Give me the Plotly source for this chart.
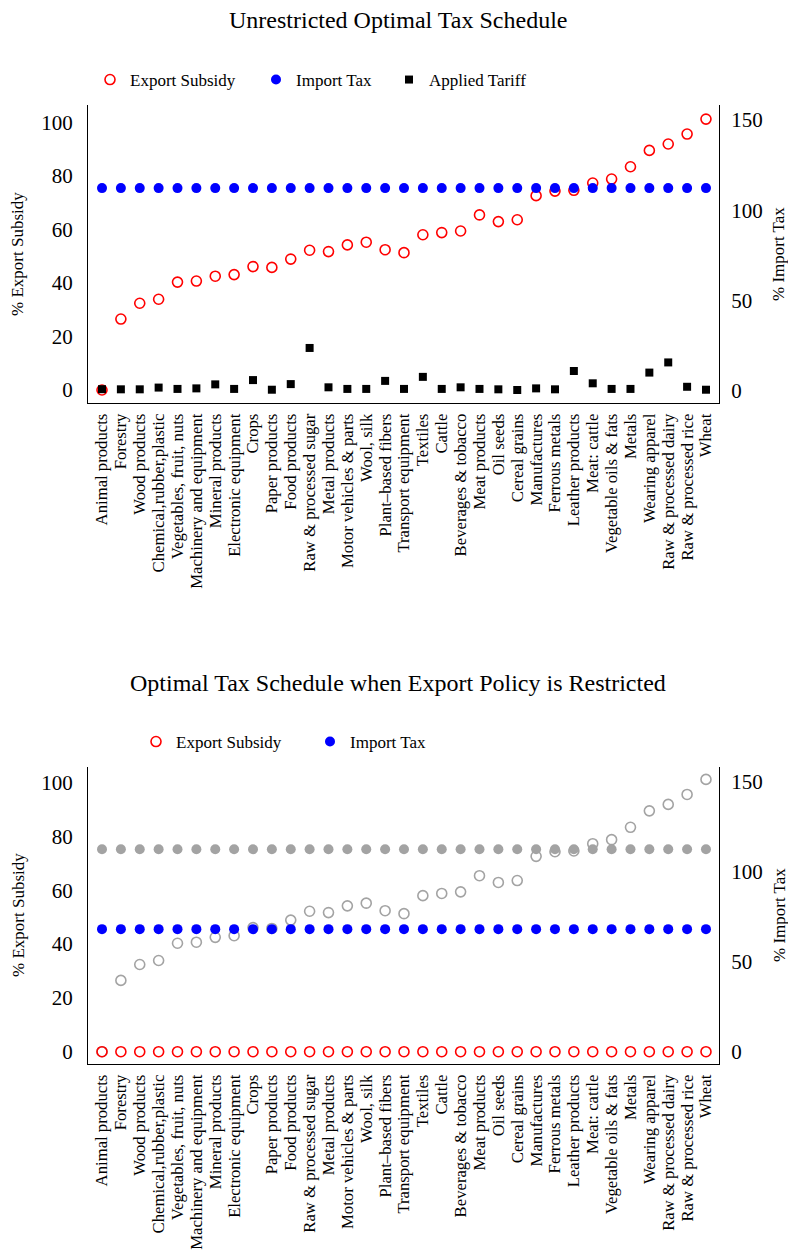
import plotly.graph_objects as go

categories = [
    "Animal products", "Forestry", "Wood products", "Chemical,rubber,plastic",
    "Vegetables, fruit, nuts", "Machinery and equipment", "Mineral products",
    "Electronic equipment", "Crops", "Paper products", "Food products",
    "Raw & processed sugar", "Metal products", "Motor vehicles & parts",
    "Wool, silk", "Plant\u2013based fibers", "Transport equipment", "Textiles",
    "Cattle", "Beverages & tobacco", "Meat products", "Oil seeds",
    "Cereal grains", "Manufactures", "Ferrous metals", "Leather products",
    "Meat: cattle", "Vegetable oils & fats", "Metals", "Wearing apparel",
    "Raw & processed dairy", "Raw & processed rice", "Wheat",
]

# Unrestricted schedule (left axis: % export subsidy, right axis: % import tax)
export_subsidy = [0.0, 26.5, 32.4, 33.9, 40.3, 40.7, 42.5, 43.1, 46.1, 45.8, 48.9,
                  52.2, 51.7, 54.2, 55.2, 52.4, 51.3, 58.0, 58.8, 59.4, 65.4, 62.9,
                  63.6, 72.6, 74.3, 74.6, 77.3, 78.8, 83.4, 89.5, 91.9, 95.6, 101.2]
import_tax = [112.3, 112.3, 112.3, 112.3, 112.3, 112.3, 112.3, 112.3, 112.3, 112.3, 112.3,
              112.3, 112.3, 112.3, 112.3, 112.3, 112.3, 112.3, 112.3, 112.3, 112.3, 112.3,
              112.3, 112.3, 112.3, 112.3, 112.3, 112.3, 112.3, 112.3, 112.3, 112.3, 112.3]
applied_tariff = [0.3, 0.25, 0.25, 0.9, 0.4, 0.6, 2.1, 0.4, 3.7, 0.1, 2.2,
                  15.7, 1.0, 0.4, 0.4, 3.4, 0.4, 4.9, 0.4, 1.0, 0.4, 0.25,
                  0.0, 0.6, 0.25, 7.1, 2.5, 0.4, 0.4, 6.5, 10.3, 1.2, 0.1]

# Restricted schedule
restricted_export_subsidy = [0, 0, 0, 0, 0, 0, 0, 0, 0, 0, 0,
                             0, 0, 0, 0, 0, 0, 0, 0, 0, 0, 0,
                             0, 0, 0, 0, 0, 0, 0, 0, 0, 0, 0]
restricted_import_tax = [68.0, 68.0, 68.0, 68.0, 68.0, 68.0, 68.0, 68.0, 68.0, 68.0, 68.0,
                         68.0, 68.0, 68.0, 68.0, 68.0, 68.0, 68.0, 68.0, 68.0, 68.0, 68.0,
                         68.0, 68.0, 68.0, 68.0, 68.0, 68.0, 68.0, 68.0, 68.0, 68.0, 68.0]

left_ticks = [0, 20, 40, 60, 80, 100]
right_ticks = [0, 50, 100, 150]

OFF = 8  # page body margin offset
W, H = 796 - 2 * OFF, 1251 - OFF
FONT = "Liberation Serif"
RED, BLUE, GRAY = "#ff0000", "#0000ff", "#a3a3a3"


def px_x(p):
    return (p - OFF) / W


def px_y(p):
    return 1 - (p - OFF) / H


fig = go.Figure()

# ---- top panel ----
fig.add_trace(go.Scatter(x=categories, y=export_subsidy, mode="markers", name="Export Subsidy",
                         marker=dict(symbol="circle-open", size=10, color=RED, line=dict(width=1.6)),
                         xaxis="x", yaxis="y", legend="legend", legendrank=1, legendwidth=121))
fig.add_trace(go.Scatter(x=categories, y=applied_tariff, mode="markers", name="Applied Tariff",
                         marker=dict(symbol="square", size=8, color="black"),
                         xaxis="x", yaxis="y", legend="legend", legendrank=3, legendwidth=110))
fig.add_trace(go.Scatter(x=categories, y=import_tax, mode="markers", name="Import Tax",
                         marker=dict(symbol="circle", size=10, color=BLUE),
                         xaxis="x", yaxis="y2", legend="legend", legendrank=2, legendwidth=88))

# ---- bottom panel ----
fig.add_trace(go.Scatter(x=categories, y=export_subsidy, mode="markers", showlegend=False,
                         marker=dict(symbol="circle-open", size=10, color=GRAY, line=dict(width=1.6)),
                         xaxis="x2", yaxis="y3"))
fig.add_trace(go.Scatter(x=categories, y=restricted_export_subsidy, mode="markers", name="Export Subsidy",
                         marker=dict(symbol="circle-open", size=10, color=RED, line=dict(width=1.6)),
                         xaxis="x2", yaxis="y3", legend="legend2", legendrank=1, legendwidth=129))
fig.add_trace(go.Scatter(x=categories, y=import_tax, mode="markers", showlegend=False,
                         marker=dict(symbol="circle", size=10, color=GRAY),
                         xaxis="x2", yaxis="y4"))
fig.add_trace(go.Scatter(x=categories, y=restricted_import_tax, mode="markers", name="Import Tax",
                         marker=dict(symbol="circle", size=10, color=BLUE),
                         xaxis="x2", yaxis="y4", legend="legend2", legendrank=2, legendwidth=88))

xdom = [px_x(88), px_x(719)]
xrange = [-0.742, 32.69]

xaxis_common = dict(type="category", range=xrange, showline=True, linecolor="black", linewidth=1,
                    ticks="", tickangle=-90, showgrid=False, zeroline=False,
                    tickmode="array", tickvals=categories, ticktext=categories,
                    tickfont=dict(family=FONT, size=16.7, color="black"), ticklabelstandoff=3)
yleft_common = dict(showline=True, linecolor="black", linewidth=1, ticks="", showgrid=False,
                    zeroline=False, tickvals=left_ticks, tickfont=dict(family=FONT, size=21, color="black"),
                    ticklabelstandoff=10)
yright_common = dict(showline=True, linecolor="black", linewidth=1, ticks="", showgrid=False,
                     zeroline=False, tickvals=right_ticks, side="right",
                     tickfont=dict(family=FONT, size=21, color="black"), ticklabelstandoff=7)

fig.update_layout(
    width=W, height=H,
    margin=dict(l=0, r=0, t=0, b=0),
    paper_bgcolor="white", plot_bgcolor="white",
    font=dict(family=FONT, color="black"),
    showlegend=True,
    xaxis=dict(domain=xdom, anchor="y", **xaxis_common),
    xaxis2=dict(domain=xdom, anchor="y3", **xaxis_common),
    yaxis=dict(domain=[px_y(403), px_y(105)], anchor="x", range=[-4.86, 106.46], **yleft_common),
    yaxis2=dict(overlaying="y", anchor="x", range=[-6.64, 158.3], **yright_common),
    yaxis3=dict(domain=[px_y(1064), px_y(767)], anchor="x2", range=[-4.57, 105.8], **yleft_common),
    yaxis4=dict(overlaying="y3", anchor="x2", range=[-6.8, 157.95], **yright_common),
    legend=dict(orientation="h", x=px_x(110 - 20), xanchor="left", y=px_y(80), yanchor="middle",
                font=dict(family=FONT, size=17, color="black"), bgcolor="rgba(0,0,0,0)",
                traceorder="normal"),
    legend2=dict(orientation="h", x=px_x(156 - 20), xanchor="left", y=px_y(742), yanchor="middle",
                 font=dict(family=FONT, size=17, color="black"), bgcolor="rgba(0,0,0,0)",
                 traceorder="normal"),
)

annotations = [
    dict(text="Unrestricted Optimal Tax Schedule", x=px_x(398), y=px_y(20)),
    dict(text="Optimal Tax Schedule when Export Policy is Restricted", x=px_x(398), y=px_y(683)),
]
for a in annotations:
    a.update(xref="paper", yref="paper", showarrow=False, xanchor="center", yanchor="middle",
             font=dict(family=FONT, size=24, color="black"))

axis_titles = [
    dict(text="% Export Subsidy", x=px_x(18), y=px_y(254)),
    dict(text="% Import Tax", x=px_x(779), y=px_y(254)),
    dict(text="% Export Subsidy", x=px_x(18), y=px_y(915)),
    dict(text="% Import Tax", x=px_x(779), y=px_y(915)),
]
for a in axis_titles:
    a.update(xref="paper", yref="paper", showarrow=False, xanchor="center", yanchor="middle",
             textangle=-90, font=dict(family=FONT, size=17, color="black"))

fig.update_layout(annotations=annotations + axis_titles)

fig.write_html("out.html")
